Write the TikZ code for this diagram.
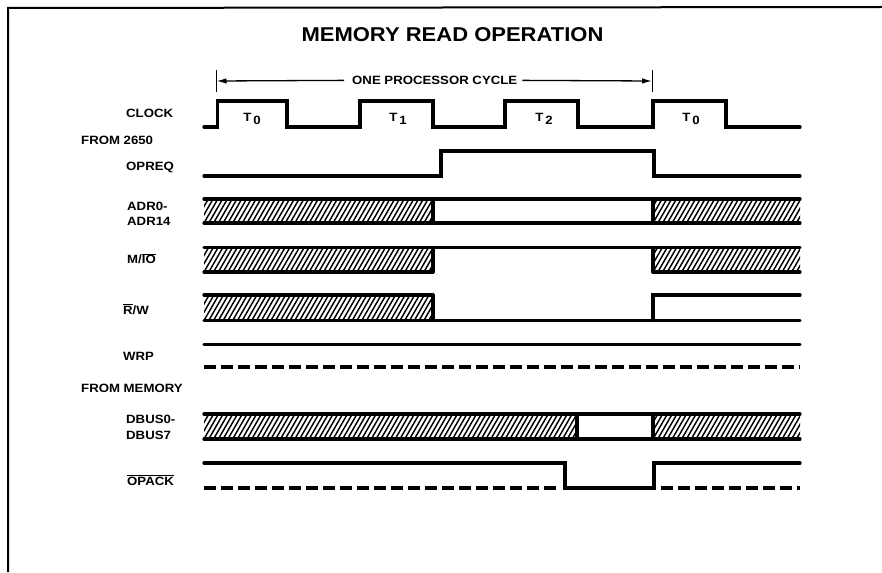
\documentclass[tikz,border=0pt]{standalone}
\usepackage{fontspec}
\setmainfont{Liberation Sans}
\newfontfamily\widebold[FakeStretch=1.1]{Liberation Sans Bold}
\usetikzlibrary{arrows.meta}
\newcommand{\hatchbox}[4]{%
  \begin{scope}
    \clip (#1,#3) rectangle (#2,#4);
    \pgfmathtruncatemacro{\hatchn}{(#2-#1)/4.78+1}
    \foreach \k in {-3,...,\hatchn} {
      \draw[line width=1.45pt] ({#1+4.78*\k},#4) -- ++(15,-26);
    }
  \end{scope}
  \draw[sigline] (#1,#3) -- (#2,#3) (#1,#4) -- (#2,#4);
}
\tikzset{
  sigline/.style={line width=3.3pt,line cap=round,line join=miter},
  dashsig/.style={line width=3.3pt,dash pattern=on 12pt off 5pt},
  siglabel/.style={anchor=base west,inner sep=0pt,font=\widebold\fontsize{12}{13}\selectfont},
  phaselabel/.style={anchor=base,inner sep=0pt,font=\widebold\fontsize{12}{13}\selectfont},
}
\begin{document}
\begin{tikzpicture}[x=1pt,y=-1pt]
    \useasboundingbox (0,0) rectangle (882,572);
    \draw[line width=2pt] (8,572) -- (8,8) -- (882,7);
    \node[anchor=base,inner sep=0pt,font=\widebold\fontsize{20}{24}\selectfont] (title) at (452.5,42) {MEMORY READ OPERATION};
    % cycle marker
    \coordinate (cycleL) at (216.5,81);
    \coordinate (cycleR) at (652,81);
    \node[siglabel] (cycle) at (352,84.5) {ONE PROCESSOR CYCLE};
    \draw[line width=1pt] (216.5,70) -- (216.5,92);
    \draw[line width=1pt] (652,70) -- (652,92);
    \draw[-{Latex[length=10pt,width=5.5pt]},line width=1.3pt] (cycle.west) ++(-8,0) -- (cycleL);
    \draw[-{Latex[length=10pt,width=5.5pt]},line width=1.3pt] (cycle.east) ++(5,0) -- (cycleR);
    % labels
    \node[siglabel] (clock) at (126,117.5) {CLOCK};
    \node[siglabel] (from) at (81,144.5) {FROM 2650};
    \node[siglabel] (opreq) at (126,170) {OPREQ};
    \node[siglabel] (adra) at (127,210) {ADR0-};
    \node[siglabel] (adrb) at (127,225) {ADR14};
    \node[siglabel] (mio) at (127,263.5) {M/$\overline{\hbox{IO}}$};
    \node[siglabel] (rw) at (123,314) {$\overline{\hbox{R}}$/W};
    \node[siglabel] (wrp) at (123,360) {WRP};
    \node[siglabel] (frommem) at (81,392) {FROM MEMORY};
    \node[siglabel] (dbusa) at (126,423.5) {DBUS0-};
    \node[siglabel] (dbusb) at (126,439) {DBUS7};
    \node[siglabel] (opack) at (127,485) {$\overline{\hbox{OPACK}}$};
    \foreach \x/\d/\n in {252/0/a,398/1/b,544/2/c,691/0/d} {
      \node[phaselabel] (t\n) at (\x,121.5) {T\,\raisebox{-3.5pt}{\d}};
    }
    % clock and opreq
    \draw[sigline] (204,127) -- (217.5,127) -- (217.5,101) -- (287,101) -- (287,127) -- (360,127) -- (360,101) -- (433,101) -- (433,127) -- (505,127) -- (505,101) -- (578,101) -- (578,127) -- (653,127) -- (653,101) -- (726,101) -- (726,127) -- (800,127);
    \draw[sigline] (204,176) -- (441,176) -- (441,151) -- (654,151) -- (654,176) -- (800,176);
    % hatched buses
    \hatchbox{204}{433}{199}{223}
    \hatchbox{653}{800}{199}{223}
    \draw[sigline] (433,199) rectangle (653,223);
    \hatchbox{204}{433}{247.5}{272}
    \hatchbox{653}{800}{247.5}{272}
    \draw[sigline] (433,272) -- (433,247.5) -- (653,247.5) -- (653,272);
    \hatchbox{204}{433}{295}{320.5}
    \draw[sigline] (433,295) -- (433,320.5) -- (800,320.5);
    \draw[sigline] (800,295) -- (653,295) -- (653,320.5);
    % wrp
    \draw[sigline] (204,344.5) -- (800,344.5);
    \draw[dashsig] (204,367) -- (800,367);
    \hatchbox{204}{577}{414}{439}
    \hatchbox{653}{800}{414}{439}
    \draw[sigline] (577,414) rectangle (653,439);
    % opack
    \draw[sigline] (204,463) -- (565,463) -- (565,488) -- (654,488) -- (654,463) -- (800,463);
    \draw[dashsig] (204,488) -- (557,488);
    \draw[dashsig] (661,488) -- (800,488);
  \end{tikzpicture}
\end{document}
